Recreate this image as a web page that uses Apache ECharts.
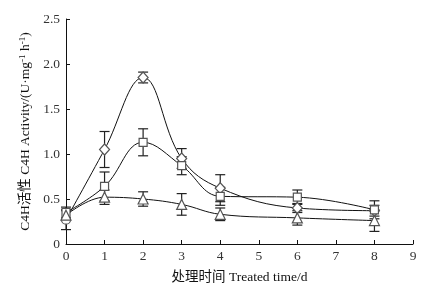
<!DOCTYPE html>
<html>
<head>
<meta charset="utf-8">
<script src="https://cdn.jsdelivr.net/npm/echarts@6/dist/echarts.min.js"></script>
<style>
  html, body { margin: 0; padding: 0; background: #fff; }
  #chart { width: 445px; height: 294px; }
</style>
</head>
<body>
<div id="chart"></div>
<script>
// treated days
var days = [0, 1, 2, 3, 4, 6, 8];
// C4H activity, three treatments
var diamondVals = [0.27, 1.05, 1.85, 0.95, 0.62, 0.40, 0.37];
var diamondErr  = [0.11, 0.20, 0.06, 0.11, 0.15, 0.05, 0.06];
var squareVals  = [0.35, 0.64, 1.13, 0.87, 0.53, 0.52, 0.38];
var squareErr   = [0.06, 0.16, 0.15, 0.10, 0.10, 0.08, 0.10];
var triVals     = [0.32, 0.52, 0.50, 0.44, 0.33, 0.29, 0.26];
var triErr      = [0.05, 0.08, 0.08, 0.12, 0.07, 0.08, 0.12];
var yTicks = [0, 0.5, 1.0, 1.5, 2.0, 2.5];

var font = "'Liberation Serif', 'Noto Sans CJK SC', serif";

function pts(vals) {
    return days.map(function (d, i) { return [d, vals[i]]; });
}
function errData(vals, errs) {
    return days.map(function (d, i) { return [d, vals[i] - errs[i], vals[i] + errs[i]]; });
}

function errorSeries(vals, errs) {
    return {
        type: 'custom',
        z: 1,
        data: errData(vals, errs),
        renderItem: function (params, api) {
            var lo = api.coord([api.value(0), api.value(1)]);
            var hi = api.coord([api.value(0), api.value(2)]);
            var w = 5;
            var st = { stroke: '#222', lineWidth: 1.2 };
            return {
                type: 'group',
                children: [
                    { type: 'line', shape: { x1: hi[0], y1: hi[1], x2: lo[0], y2: lo[1] }, style: st },
                    { type: 'line', shape: { x1: hi[0] - w, y1: hi[1], x2: hi[0] + w, y2: hi[1] }, style: st },
                    { type: 'line', shape: { x1: lo[0] - w, y1: lo[1], x2: lo[0] + w, y2: lo[1] }, style: st }
                ]
            };
        }
    };
}

function lineSeries(vals, symbol, size) {
    return {
        type: 'line',
        z: 3,
        smooth: 0.4,
        data: pts(vals),
        symbol: symbol,
        symbolSize: size,
        lineStyle: { color: '#111', width: 1 },
        itemStyle: { color: '#fff', borderColor: '#555', borderWidth: 1.2 }
    };
}

var diamondSeries = lineSeries(diamondVals, 'diamond', [10, 11]);
diamondSeries.data[0] = { value: [0, diamondVals[0]], symbol: 'circle', symbolSize: 9 };

var chart = echarts.init(document.getElementById('chart'));
chart.setOption({
    animation: false,
    textStyle: { fontFamily: font },
    grid: { left: 66, right: 32, top: 19, bottom: 50 },
    xAxis: {
        type: 'value',
        min: 0, max: 9, interval: 1,
        name: '处理时间 Treated time/d',
        nameLocation: 'middle',
        nameGap: 27,
        nameTextStyle: { fontFamily: font, fontSize: 13.5, color: '#111' },
        axisLine: { onZero: false, lineStyle: { color: '#111', width: 1 } },
        axisTick: { inside: true, length: 4, lineStyle: { color: '#111' } },
        axisLabel: { fontFamily: font, fontSize: 13.5, color: '#333', margin: 6 },
        splitLine: { show: false }
    },
    yAxis: {
        type: 'value',
        min: 0, max: 2.5, interval: 0.5,
        name: '{t|C4H活性 C4H Activity/(U·mg}{s|-1}{t| h}{s|-1}{t|)}',
        nameLocation: 'middle',
        nameGap: 31,
        nameTextStyle: {
            rich: {
                t: { fontFamily: font, fontSize: 13.5, color: '#111' },
                s: { fontFamily: font, fontSize: 9, color: '#111', verticalAlign: 'top', padding: [0, 0, 6, 0] }
            }
        },
        axisLine: { show: true, lineStyle: { color: '#111', width: 1 } },
        axisTick: { show: true, inside: true, length: 4, lineStyle: { color: '#111' } },
        axisLabel: {
            fontFamily: font, fontSize: 13.5, color: '#333', margin: 6,
            formatter: function (v) {
                if (yTicks.indexOf(v) < 0) return '';
                return v === 0 ? '0' : v.toFixed(1);
            }
        },
        splitLine: { show: false }
    },
    series: [
        errorSeries(diamondVals, diamondErr),
        errorSeries(squareVals, squareErr),
        errorSeries(triVals, triErr),
        diamondSeries,
        lineSeries(squareVals, 'rect', 8),
        lineSeries(triVals, 'triangle', 10)
    ]
});
</script>
</body>
</html>
